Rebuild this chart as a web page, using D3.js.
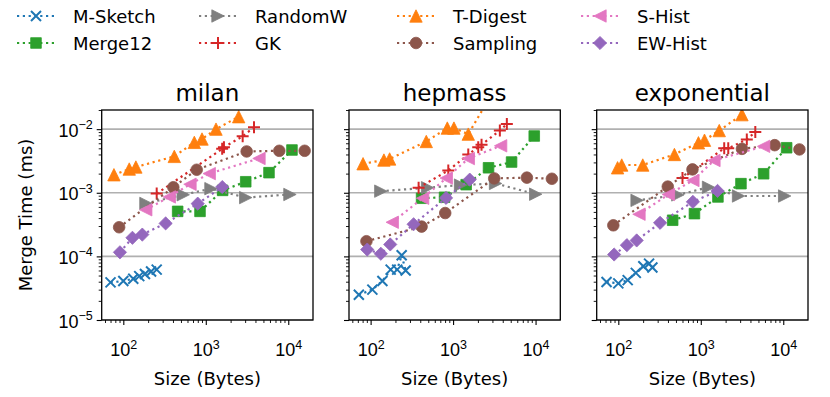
<!DOCTYPE html>
<html>
<head>
<meta charset="utf-8">
<script src="https://cdn.jsdelivr.net/npm/d3@7"></script>
<style>
  body { margin: 0; background: #fff; }
  svg { font-family: "DejaVu Sans", sans-serif; }
</style>
</head>
<body>
<svg id="chart" width="830" height="397"></svg>
<script>
// sketch names, in the order they were plotted
var seriesNames = ["M-Sketch", "Merge12", "RandomW", "GK", "T-Digest", "Sampling", "S-Hist", "EW-Hist"];
var datasetNames = ["milan", "hepmass", "exponential"];
var xTickExps = [2, 3, 4];
var yTickExps = [-5, -4, -3, -2];

// [size in bytes, merge time in ms]
var milanMSketch = [[70, 3.9e-5], [100, 4.1e-5], [132, 4.45e-5], [156, 4.9e-5], [183, 5.3e-5], [217, 5.8e-5], [254, 6.2e-5]];
var milanMerge12 = [[456, 5.1e-4], [851, 5.1e-4], [1600, 1.09e-3], [3050, 1.49e-3], [5840, 2.07e-3], [11090, 4.7e-3]];
var milanRandomW = [[188, 6.8e-4], [533, 9.3e-4], [1156, 1.16e-3], [3050, 8.4e-4], [10480, 9.4e-4]];
var milanGK = [[254, 9.7e-4], [1580, 4.9e-3], [1660, 5.2e-3], [2800, 7.7e-3], [3840, 1.07e-2]];
var milanTDigest = [[77, 1.92e-3], [118, 2.36e-3], [142, 2.54e-3], [415, 3.73e-3], [726, 6.2e-3], [900, 7.0e-3], [1330, 1.0e-2], [2505, 1.57e-2]];
var milanSampling = [[89, 2.87e-4], [404, 1.22e-3], [776, 2.3e-3], [3130, 4.46e-3], [7785, 4.57e-3], [15800, 4.57e-3]];
var milanSHist = [[187, 5.4e-4], [361, 8.6e-4], [643, 1.36e-3], [1101, 2.0e-3], [4415, 3.46e-3]];
var milanEWHist = [[91, 1.16e-4], [129, 1.96e-4], [170, 2.2e-4], [326, 3.3e-4], [798, 6.75e-4], [1585, 1.23e-3]];

var hepmassMSketch = [[72, 2.5e-5], [105, 3.0e-5], [139, 4.1e-5], [175, 6.2e-5], [210, 6.2e-5], [238, 1.04e-4], [266, 6.0e-5]];
var hepmassMerge12 = [[415, 8.2e-4], [788, 8.5e-4], [1440, 1.34e-3], [2690, 2.47e-3], [5120, 3.04e-3], [9640, 7.8e-3]];
var hepmassRandomW = [[133, 1.06e-3], [491, 1.2e-3], [1233, 1.32e-3], [3273, 1.4e-3], [10040, 9.5e-4]];
var hepmassGK = [[382, 1.2e-3], [875, 2.24e-3], [1528, 4.0e-3], [2018, 5.2e-3], [2213, 5.7e-3], [3690, 9.5e-3], [4485, 1.21e-2]];
var hepmassTDigest = [[81, 2.86e-3], [145, 3.27e-3], [170, 3.4e-3], [473, 6.4e-3], [851, 1.04e-2], [1024, 1.04e-2], [1528, 8.35e-3], [3000, 3.7e-2]];
var hepmassSampling = [[89, 1.73e-4], [415, 2.94e-4], [803, 4.8e-4], [3155, 1.68e-3], [7850, 1.73e-3], [15770, 1.66e-3]];
var hepmassSHist = [[183, 3.44e-4], [427, 8.2e-4], [827, 1.7e-3], [1528, 3.45e-3], [3770, 5.47e-3]];
var hepmassEWHist = [[91, 1.28e-4], [133, 1.1e-4], [173, 1.54e-4], [332, 3.2e-4], [822, 8.3e-4], [1592, 1.61e-3]];

var exponentialMSketch = [[72, 3.95e-5], [100, 3.76e-5], [130, 4.24e-5], [163, 5.5e-5], [201, 7.0e-5], [236, 7.7e-5], [259, 6.7e-5]];
var exponentialMerge12 = [[456, 3.7e-4], [838, 4.7e-4], [1614, 8.6e-4], [3070, 1.39e-3], [5780, 1.99e-3], [10990, 5.1e-3]];
var exponentialRandomW = [[169, 7.6e-4], [527, 9.25e-4], [1242, 1.22e-3], [2871, 8.9e-4], [10400, 8.9e-4]];
var exponentialGK = [[600, 1.7e-3], [1923, 5.0e-3], [2153, 5.0e-3], [3614, 6.9e-3], [4581, 9.0e-3]];
var exponentialTDigest = [[98, 2.47e-3], [110, 2.73e-3], [198, 2.73e-3], [479, 4.0e-3], [937, 6.1e-3], [1109, 6.7e-3], [1674, 9.5e-3], [3155, 1.69e-2]];
var exponentialSampling = [[87, 3.08e-4], [398, 1.25e-3], [793, 2.33e-3], [3155, 4.9e-3], [7870, 5.6e-3], [15700, 4.8e-3]];
var exponentialSHist = [[178, 4.6e-4], [405, 9.4e-4], [802, 1.56e-3], [1442, 3.22e-3], [5780, 5.37e-3]];
var exponentialEWHist = [[89, 1.07e-4], [127, 1.5e-4], [167, 1.78e-4], [321, 3.37e-4], [802, 7.2e-4], [1596, 1.07e-3]];

var panelData = [
  [milanMSketch, milanMerge12, milanRandomW, milanGK, milanTDigest, milanSampling, milanSHist, milanEWHist],
  [hepmassMSketch, hepmassMerge12, hepmassRandomW, hepmassGK, hepmassTDigest, hepmassSampling, hepmassSHist, hepmassEWHist],
  [exponentialMSketch, exponentialMerge12, exponentialRandomW, exponentialGK, exponentialTDigest, exponentialSampling, exponentialSHist, exponentialEWHist]
];

var colors = ["#1f77b4", "#2ca02c", "#7f7f7f", "#d62728", "#ff7f0e", "#8c564b", "#e377c2", "#9467bd"];
var markers = ["x", "s", ">", "+", "^", "o", "<", "D"];

// marker shapes, centred on 0,0
function markerPath(m) {
  switch (m) {
    case "x": return "M-5,-5L5,5M-5,5L5,-5";
    case "+": return "M-6,0L6,0M0,-6L0,6";
    case "^": return "M0,-6.2L-6.2,6.2L6.2,6.2Z";
    case ">": return "M6.2,0L-6.2,-6.2L-6.2,6.2Z";
    case "<": return "M-6.2,0L6.2,-6.2L6.2,6.2Z";
    case "s": return "M-5.3,-5.3H5.3V5.3H-5.3Z";
    case "D": return "M0,-6.6L6.6,0L0,6.6L-6.6,0Z";
    case "o": return d3.arc()({innerRadius: 0, outerRadius: 5.8, startAngle: 0, endAngle: 2 * Math.PI});
  }
}
function drawMarker(sel, m, c) {
  var line = (m === "x" || m === "+");
  sel.append("path")
    .attr("d", markerPath(m))
    .attr("fill", line ? "none" : c)
    .attr("stroke", c)
    .attr("stroke-width", line ? 2 : 0.8);
}

var svg = d3.select("#chart");
var panelLeft = [101.7, 349, 596.7];
var panelW = 211.3, panelTop = 110, panelH = 210;

var x = d3.scaleLog().domain([54.7, 19950]).range([0, panelW]);
var y = d3.scaleLog().domain([1e-5, 2e-2]).range([panelH, 0]);

var xMajor = xTickExps.map(function (e) { return Math.pow(10, e); });
var yMajor = yTickExps.map(function (e) { return Math.pow(10, e); });
function minorTicks(scale) {
  var d = scale.domain(), out = [];
  for (var e = Math.floor(Math.log10(d[0])); e <= Math.ceil(Math.log10(d[1])); e++) {
    for (var k = 2; k <= 9; k++) {
      var v = k * Math.pow(10, e);
      if (v >= d[0] && v <= d[1]) out.push(v);
    }
  }
  return out;
}

function powLabel(sel, anchor) {
  sel.each(function (d) {
    var t = d3.select(this);
    var e = Math.round(Math.log10(d));
    t.text(null).attr("text-anchor", anchor);
    t.append("tspan").text("10");
    t.append("tspan").attr("dy", -7.5).attr("font-size", 12.5).text(String(e).replace("-", "\u2212"));
  });
}

svg.append("defs").append("clipPath").attr("id", "plotclip")
  .append("rect").attr("width", panelW).attr("height", panelH);

datasetNames.forEach(function (name, p) {
  var g = svg.append("g").attr("transform", "translate(" + panelLeft[p] + "," + panelTop + ")");

  // horizontal grid at the major y ticks
  g.append("g").selectAll("line").data(yMajor).enter().append("line")
    .attr("x1", 0).attr("x2", panelW)
    .attr("y1", function (d) { return y(d); }).attr("y2", function (d) { return y(d); })
    .attr("stroke", "#b0b0b0").attr("stroke-width", 1.6);

  // minor ticks
  g.append("g").attr("transform", "translate(0," + panelH + ")")
    .call(d3.axisBottom(x).tickValues(minorTicks(x)).tickSize(3).tickFormat(""))
    .call(function (a) { a.select(".domain").remove(); a.selectAll("line").attr("stroke-width", 0.9); });
  g.append("g")
    .call(d3.axisLeft(y).tickValues(minorTicks(y)).tickSize(3).tickFormat(""))
    .call(function (a) { a.select(".domain").remove(); a.selectAll("line").attr("stroke-width", 0.9); });

  // major ticks
  var xa = g.append("g").attr("transform", "translate(0," + panelH + ")")
    .call(d3.axisBottom(x).tickValues(xMajor).tickSize(5).tickPadding(0));
  xa.select(".domain").remove();
  xa.selectAll("line").attr("stroke-width", 1.1);
  xa.selectAll("text").attr("font-size", 18).attr("fill", "#000").attr("dy", null).attr("y", 36)
    .call(powLabel, "middle");

  var ya = g.append("g").call(d3.axisLeft(y).tickValues(yMajor).tickSize(5).tickPadding(0));
  ya.select(".domain").remove();
  ya.selectAll("line").attr("stroke-width", 1.1);
  ya.selectAll("text").attr("font-size", 18).attr("fill", "#000").attr("dy", null).attr("x", -9).attr("y", 7)
    .call(function (s) { if (p === 0) s.call(powLabel, "end"); else s.remove(); });

  // series
  var plot = g.append("g").attr("clip-path", "url(#plotclip)");
  panelData[p].forEach(function (pts, i) {
    var sg = plot.append("g");
    sg.append("path")
      .attr("d", d3.line().x(function (d) { return x(d[0]); }).y(function (d) { return y(d[1]); })(pts))
      .attr("fill", "none").attr("stroke", colors[i]).attr("stroke-width", 2.2)
      .attr("stroke-dasharray", "2.2,3.6");
    sg.selectAll("g.m").data(pts).enter().append("g").attr("class", "m")
      .attr("transform", function (d) { return "translate(" + x(d[0]) + "," + y(d[1]) + ")"; })
      .each(function () { drawMarker(d3.select(this), markers[i], colors[i]); });
  });

  // frame
  g.append("rect").attr("width", panelW).attr("height", panelH)
    .attr("fill", "none").attr("stroke", "#000").attr("stroke-width", 1.3);

  g.append("text").attr("x", panelW / 2).attr("y", -9).attr("text-anchor", "middle")
    .attr("font-size", 23).text(name);
  g.append("text").attr("x", panelW / 2).attr("y", 275).attr("text-anchor", "middle")
    .attr("font-size", 18).text("Size (Bytes)");
});

svg.append("text").attr("transform", "translate(32,215) rotate(-90)")
  .attr("text-anchor", "middle").attr("font-size", 18).text("Merge Time (ms)");

// legend, 4 columns filled top to bottom
var legCol = [36, 218, 416, 600], legRow = [16, 43];
seriesNames.forEach(function (n, i) {
  var lg = svg.append("g").attr("transform", "translate(" + legCol[Math.floor(i / 2)] + "," + legRow[i % 2] + ")");
  lg.append("line").attr("x1", -19).attr("x2", 19).attr("stroke", colors[i])
    .attr("stroke-width", 2.2).attr("stroke-dasharray", "2.2,3.6");
  drawMarker(lg, markers[i], colors[i]);
  lg.append("text").attr("x", 37).attr("y", 6.5).attr("font-size", 18).text(n);
});
</script>
</body>
</html>
